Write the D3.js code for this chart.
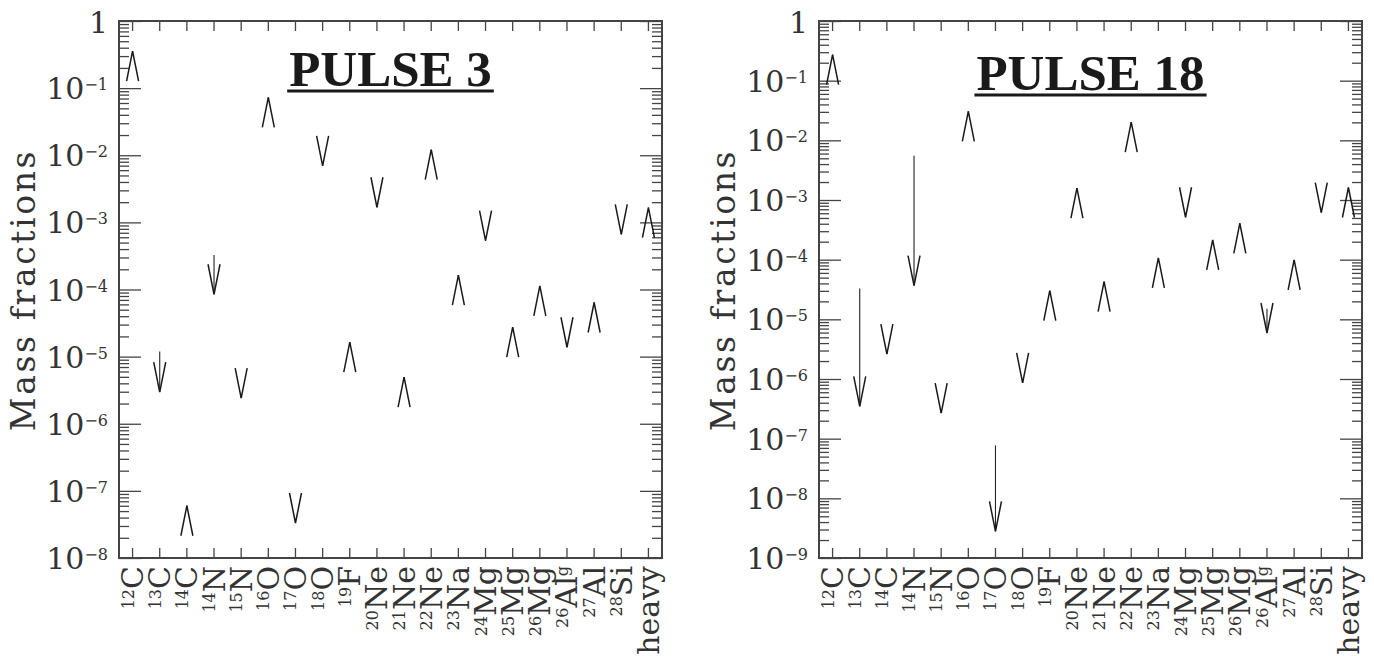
<!DOCTYPE html>
<html>
<head>
<meta charset="utf-8">
<script src="https://cdn.jsdelivr.net/npm/d3@7"></script>
<style>
  body { margin: 0; background: #fff; }
  svg text { font-family: 'DejaVu Serif', serif; }
</style>
</head>
<body>
<svg width="1374" height="656"></svg>
<script>
// species along the x axis
const species = ['12C', '13C', '14C', '14N', '15N', '16O', '17O', '18O', '19F', '20Ne',
  '21Ne', '22Ne', '23Na', '24Mg', '25Mg', '26Mg', '26Alg', '27Al', '28Si', 'heavy'];
const massNum = ['12', '13', '14', '14', '15', '16', '17', '18', '19', '20',
  '21', '22', '23', '24', '25', '26', '26', '27', '28', ''];
const element = ['C', 'C', 'C', 'N', 'N', 'O', 'O', 'O', 'F', 'Ne',
  'Ne', 'Ne', 'Na', 'Mg', 'Mg', 'Mg', 'Al', 'Al', 'Si', 'heavy'];
const suffix = ['', '', '', '', '', '', '', '', '', '',
  '', '', '', '', '', '', 'g', '', '', ''];

// pulse 3: mass fraction before (start) and after (end) the pulse
const start3 = [0.33, 1.19e-5, 5.6e-8, 3.26e-4, 2.6e-6, 0.068, 3.6e-8, 7.5e-3, 1.52e-5, 1.8e-3,
  4.6e-6, 0.0112, 1.52e-4, 5.7e-4, 2.55e-5, 1.05e-4, 1.48e-5, 5.9e-5, 7.1e-4, 1.54e-3];
const end3 = [0.356, 2.96e-6, 6.0e-8, 8.5e-5, 2.41e-6, 0.073, 3.32e-8, 6.97e-3, 1.64e-5, 1.68e-3,
  4.95e-6, 0.0121, 1.64e-4, 5.33e-4, 2.75e-5, 1.13e-4, 1.38e-5, 6.4e-5, 6.64e-4, 1.66e-3];

// pulse 18
const start18 = [0.25, 3.3e-5, 2.9e-6, 5.5e-3, 3.0e-7, 0.028, 7.7e-8, 1.0e-6, 2.8e-5, 1.46e-3,
  3.9e-5, 0.017, 9.8e-5, 5.6e-4, 1.96e-4, 3.75e-4, 1.5e-5, 9.1e-5, 6.7e-4, 1.5e-3];
const end18 = [0.273, 3.48e-7, 2.62e-6, 3.66e-5, 2.69e-7, 0.0306, 2.8e-9, 8.6e-7, 3.02e-5, 1.58e-3,
  4.3e-5, 0.0202, 1.07e-4, 5.14e-4, 2.14e-4, 4.07e-4, 5.9e-6, 9.9e-5, 6.16e-4, 1.62e-3];

const svg = d3.select('svg');
const top0 = 21;
const bottom0 = 558;
const axisColor = '#444';

const drawPanel = (p) => {
  const x = d3.scaleBand().domain(species).range([p.x0, p.x1]).padding(0);
  const y = d3.scaleLog().domain([p.yMin, 1]).range([bottom0, top0]);
  const g = svg.append('g');

  const eMin = Math.round(Math.log10(p.yMin));
  const majors = d3.range(eMin, 1).map(e => Math.pow(10, e));
  const minors = [];
  d3.range(eMin, 0).forEach((e) => {
    d3.range(2, 10).forEach((k) => { minors.push(k * Math.pow(10, e)); });
  });

  const tickStyle = (sel) => {
    sel.select('.domain').remove();
    sel.attr('color', axisColor);
    sel.selectAll('line').attr('stroke-width', 1.3);
  };

  // left/right log ticks
  g.append('g').attr('transform', `translate(${p.x0},0)`)
    .call(d3.axisLeft(y).tickValues(majors).tickSize(-22).tickFormat('')).call(tickStyle);
  g.append('g').attr('transform', `translate(${p.x0},0)`)
    .call(d3.axisLeft(y).tickValues(minors).tickSize(-10).tickFormat('')).call(tickStyle);
  g.append('g').attr('transform', `translate(${p.x1},0)`)
    .call(d3.axisRight(y).tickValues(majors).tickSize(-22).tickFormat('')).call(tickStyle);
  g.append('g').attr('transform', `translate(${p.x1},0)`)
    .call(d3.axisRight(y).tickValues(minors).tickSize(-10).tickFormat('')).call(tickStyle);

  // top/bottom category ticks
  g.append('g').attr('transform', `translate(0,${top0})`)
    .call(d3.axisTop(x).tickSize(-10).tickFormat('')).call(tickStyle);
  g.append('g').attr('transform', `translate(0,${bottom0})`)
    .call(d3.axisBottom(x).tickSize(-10).tickFormat('')).call(tickStyle);

  // frame
  g.append('rect')
    .attr('x', p.x0).attr('y', top0)
    .attr('width', p.x1 - p.x0).attr('height', bottom0 - top0)
    .attr('fill', 'none').attr('stroke', axisColor).attr('stroke-width', 2);

  // y tick labels
  majors.forEach((v) => {
    const e = Math.round(Math.log10(v));
    const t = g.append('text')
      .attr('x', p.x0 - 11)
      .attr('y', y(v) + (e === 0 ? 12 : 11))
      .attr('text-anchor', 'end')
      .attr('font-size', 30)
      .attr('fill', '#333');
    if (e === 0) {
      t.append('tspan').text('1');
    } else {
      t.append('tspan').text('10');
      t.append('tspan').attr('font-size', 16).attr('dy', -9).text('\u2212' + (-e));
    }
  });

  // y axis title
  g.append('text')
    .attr('transform', `translate(${p.x0 - 84},290) rotate(-90)`)
    .attr('text-anchor', 'middle')
    .attr('font-size', 33)
    .attr('letter-spacing', 2.6)
    .attr('fill', '#333')
    .text('Mass fractions');

  // x tick labels (rotated)
  species.forEach((s, i) => {
    const cx = x(s) + (x.bandwidth() / 2);
    const t = g.append('text')
      .attr('transform', `translate(${cx + 10.5},566) rotate(-90)`)
      .attr('text-anchor', 'end')
      .attr('font-size', 30)
      .attr('fill', '#333');
    if (massNum[i]) {
      t.append('tspan').attr('font-size', 16).attr('dy', -9.5).text(massNum[i]);
      t.append('tspan').attr('dy', 9.5).text(element[i]);
    } else {
      t.append('tspan').text(element[i]);
    }
    if (suffix[i]) {
      t.append('tspan').attr('font-size', 16).attr('dy', -9.5).text(suffix[i]);
    }
  });

  // arrows: shaft from start to end, chevron head at end
  const arrows = g.selectAll('.arrow')
    .data(species.map((s, i) => ({ s, a: p.start[i], b: p.end[i] })))
    .enter().append('g')
    .attr('class', 'arrow');

  arrows.append('line')
    .attr('x1', d => x(d.s) + (x.bandwidth() / 2))
    .attr('x2', d => x(d.s) + (x.bandwidth() / 2))
    .attr('y1', d => y(d.a))
    .attr('y2', d => y(d.b))
    .attr('stroke', '#222')
    .attr('stroke-width', 1.1);

  arrows.append('path')
    .attr('d', (d) => {
      const cx = x(d.s) + (x.bandwidth() / 2);
      const ye = y(d.b);
      const dir = d.b > d.a ? 1 : -1;
      return `M${cx - 6},${ye + (30 * dir)}L${cx},${ye}L${cx + 6},${ye + (30 * dir)}`;
    })
    .attr('fill', 'none')
    .attr('stroke', '#1a1a1a')
    .attr('stroke-width', 1.5);

  // title
  const cxTitle = (p.x0 + p.x1) / 2;
  const title = g.append('text')
    .attr('x', cxTitle)
    .attr('y', p.titleY)
    .attr('text-anchor', 'middle')
    .style('font-family', "'Liberation Serif', 'Times New Roman', serif")
    .attr('font-weight', 'bold')
    .attr('font-size', 51)
    .attr('fill', '#1a1a1a')
    .text(p.title);
  const w = title.node().getComputedTextLength();
  g.append('line')
    .attr('x1', cxTitle - (w / 2) - 2)
    .attr('x2', cxTitle + (w / 2) + 2)
    .attr('y1', p.titleY + 5)
    .attr('y2', p.titleY + 5)
    .attr('stroke', '#1a1a1a')
    .attr('stroke-width', 3);
};

drawPanel({ x0: 119, x1: 662, yMin: 1e-8, start: start3, end: end3, title: 'PULSE 3', titleY: 86 });
drawPanel({ x0: 819, x1: 1362, yMin: 1e-9, start: start18, end: end18, title: 'PULSE 18', titleY: 90 });
</script>
</body>
</html>
